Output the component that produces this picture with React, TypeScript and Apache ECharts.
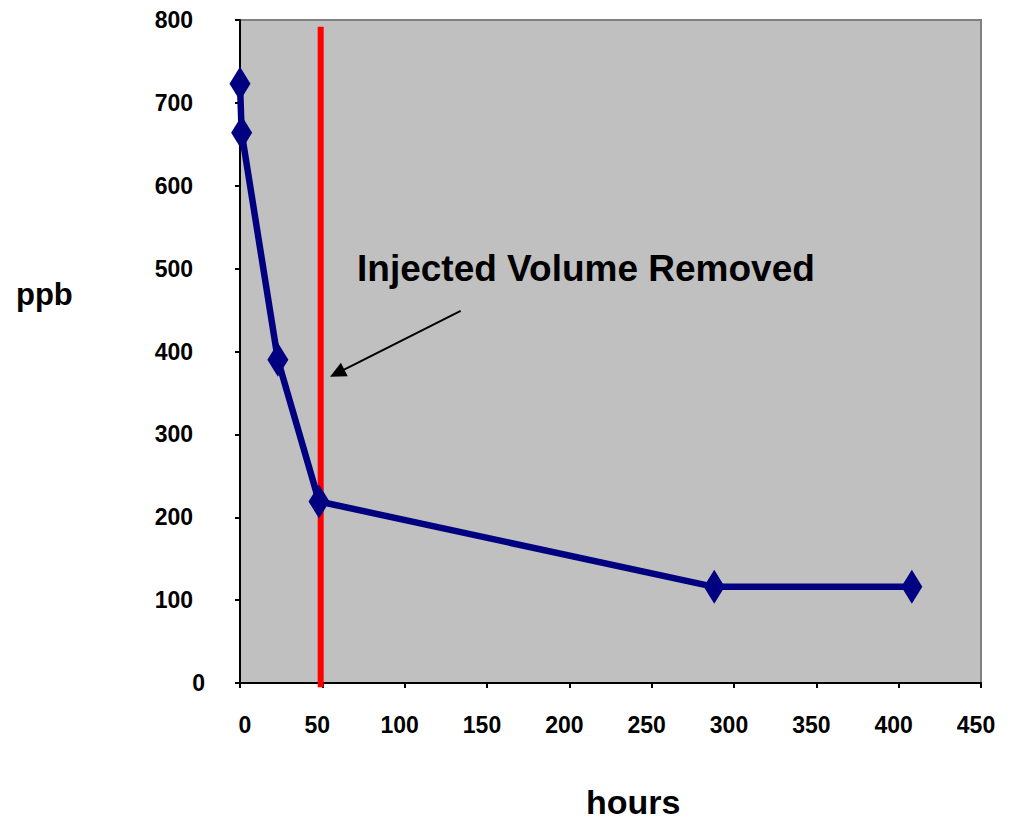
import React, { useEffect, useRef } from "react";
import * as echarts from "echarts";

// Concentration measurements over time
const hours = [0, 1, 23, 48, 288, 408];
const ppb = [723, 664, 390, 219, 116, 116];

// Time at which the injected volume was removed
const removalHour = 49;
const removalSpan = [-5, 792];

// Annotation arrow (from label towards the removal line)
const arrowFrom = [134, 449];
const arrowTo = [59, 374];

const xTicks = { min: 0, max: 450, interval: 50 };
const yTicks = { min: 0, max: 800, interval: 100 };

const FONT = "'Liberation Sans', Arial, sans-serif";

export default function App() {
  const ref = useRef<HTMLDivElement>(null);

  useEffect(() => {
    if (!ref.current) return;
    const chart = echarts.init(ref.current, undefined, { renderer: "svg" });
    chart.setOption({
      animation: false,
      backgroundColor: "#ffffff",
      grid: {
        left: 240,
        right: 31,
        top: 20,
        bottom: 138,
        show: true,
        backgroundColor: "#c0c0c0",
        borderColor: "#808080",
        borderWidth: 2,
      },
      xAxis: {
        type: "value",
        ...xTicks,
        splitLine: { show: false },
        axisLine: { show: true, onZero: false, lineStyle: { color: "#000", width: 2 } },
        axisTick: { show: true, length: 5, lineStyle: { color: "#000", width: 2 } },
        axisLabel: {
          margin: 30,
          fontFamily: FONT,
          fontWeight: "bold",
          fontSize: 23,
          color: "#000",
          formatter: (v: number) => (v === 0 ? "{z|0}" : "{n|" + v + "}"),
          rich: {
            z: { fontFamily: FONT, fontWeight: "bold", fontSize: 23, padding: [0, 0, 0, 10] },
            n: { fontFamily: FONT, fontWeight: "bold", fontSize: 23, padding: [0, 10, 0, 0] },
          },
        },
      },
      yAxis: {
        type: "value",
        ...yTicks,
        splitLine: { show: false },
        axisLine: { show: true, lineStyle: { color: "#000", width: 2 } },
        axisTick: { show: true, length: 5, lineStyle: { color: "#000", width: 2 } },
        axisLabel: {
          margin: 35,
          fontFamily: FONT,
          fontWeight: "bold",
          fontSize: 23,
          color: "#000",
          formatter: (v: number) => (v === 0 ? "{z|0}" : "{n|" + v + "}"),
          rich: {
            z: { fontFamily: FONT, fontWeight: "bold", fontSize: 23 },
            n: { fontFamily: FONT, fontWeight: "bold", fontSize: 23, padding: [0, 12, 0, 0] },
          },
        },
      },
      graphic: [
        {
          type: "text",
          left: 357,
          top: 250,
          style: {
            text: "Injected Volume Removed",
            fontFamily: FONT,
            fontWeight: "bold",
            fontSize: 37,
            fill: "#000",
          },
          z: 10,
        },
        {
          type: "text",
          left: 16,
          top: 279,
          style: { text: "ppb", fontFamily: FONT, fontWeight: "bold", fontSize: 31, fill: "#000" },
        },
        {
          type: "text",
          left: 586,
          top: 785,
          style: { text: "hours", fontFamily: FONT, fontWeight: "bold", fontSize: 34, fill: "#000" },
        },
      ],
      series: [
        {
          type: "line",
          name: "removal",
          data: [
            [removalHour, removalSpan[0]],
            [removalHour, removalSpan[1]],
          ],
          symbol: "none",
          clip: false,
          lineStyle: { color: "#ff0000", width: 6 },
          z: 3,
          markLine: {
            silent: true,
            symbol: ["none", "triangle"],
            symbolSize: [15, 16],
            label: { show: false },
            lineStyle: { color: "#000", width: 2, type: "solid" },
            itemStyle: { color: "#000" },
            data: [[{ coord: arrowFrom }, { coord: arrowTo }]],
          },
        },
        {
          type: "line",
          name: "ppb",
          data: hours.map((h, i) => [h, ppb[i]]),
          symbol: "diamond",
          symbolSize: [21, 34],
          clip: false,
          itemStyle: { color: "#000080" },
          lineStyle: { color: "#000080", width: 6.5 },
          z: 5,
        },
      ],
    });
    return () => chart.dispose();
  }, []);

  return (
    <div
      ref={ref}
      style={{ position: "fixed", left: 0, top: 0, width: 1012, height: 821 }}
    />
  );
}
